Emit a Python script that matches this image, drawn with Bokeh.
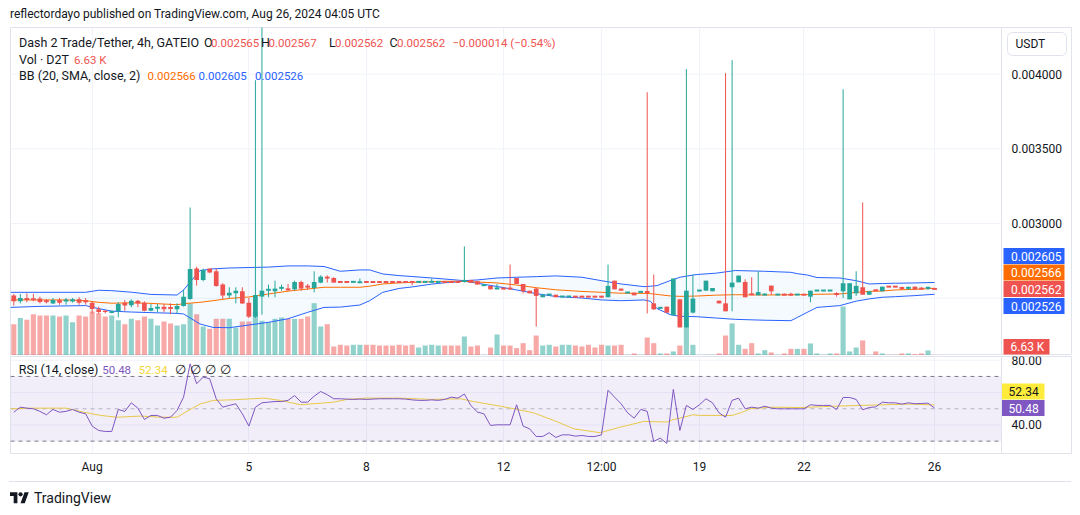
import numpy as np
from bokeh.plotting import figure
from bokeh.layouts import column
from bokeh.models import (ColumnDataSource, Range1d, FixedTicker, Grid, Label, Span,
                          BoxAnnotation, Div)
from bokeh.embed import file_html
from bokeh.resources import INLINE

UNIT = 1e-6  # all prices below are written in millionths of USDT

# ---------------- data (4h candles, D2T/USDT) ----------------
open_u = [2517, 2479, 2501, 2493, 2497, 2480, 2465, 2488, 2483, 2477, 2492, 2480, 2470, 2425, 2416, 2407,
          2412, 2470, 2452, 2483, 2470, 2416, 2434, 2443, 2435, 2425, 2447, 2494, 2698, 2622, 2698, 2680,
          2591, 2517, 2532, 2546, 2470, 2376, 2510, 2555, 2546, 2568, 2560, 2559, 2608, 2578, 2568, 2604,
          2644, 2635, 2609, 2609, 2608, 2600, 2609, 2609, 2609, 2609, 2609, 2609, 2609, 2609, 2608, 2608,
          2608, 2608, 2609, 2609, 2609, 2608, 2622, 2613, 2586, 2582, 2564, 2565, 2565, 2635, 2595, 2550,
          2564, 2506, 2523, 2523, 2510, 2510, 2511, 2511, 2511, 2511, 2511, 2506, 2617, 2564, 2537, 2537,
          2541, 2542, 2465, 2434, 2443, 2385, 2492, 2304, 2403, 2550, 2550, 2546, 2483, 2465, 2573, 2606,
          2608, 2532, 2519, 2523, 2584, 2523, 2524, 2524, 2523, 2524, 2510, 2550, 2550, 2550, 2529, 2546,
          2492, 2532, 2573, 2523, 2559, 2546, 2578, 2578, 2569, 2568, 2577, 2565, 2568, 2565]
high_u = [2528, 2528, 2532, 2528, 2510, 2494, 2501, 2501, 2501, 2501, 2506, 2501, 2479, 2443, 2421, 2416,
          2472, 2488, 2492, 2488, 2479, 2461, 2461, 2461, 2465, 2465, 2555, 3107, 2711, 2698, 2698, 2698,
          2600, 2573, 2573, 2573, 2501, 3960, 4350, 2591, 2617, 2591, 2595, 2617, 2617, 2595, 2680, 2653,
          2653, 2640, 2609, 2609, 2609, 2631, 2609, 2609, 2609, 2609, 2609, 2609, 2609, 2609, 2609, 2609,
          2631, 2609, 2609, 2609, 2609, 2846, 2622, 2613, 2587, 2582, 2595, 2565, 2725, 2635, 2595, 2550,
          2568, 2528, 2524, 2523, 2511, 2511, 2515, 2511, 2511, 2511, 2515, 2725, 2617, 2564, 2538, 2537,
          2542, 3879, 2658, 2435, 2443, 2631, 2492, 4034, 2658, 2551, 2617, 2568, 2483, 4007, 4094, 2651,
          2626, 2640, 2680, 2532, 2584, 2524, 2532, 2537, 2524, 2524, 2550, 2551, 2551, 2551, 2539, 3899,
          2600, 2680, 3141, 2546, 2559, 2577, 2578, 2578, 2577, 2577, 2577, 2573, 2577, 2567]
low_u = [2450, 2465, 2472, 2479, 2465, 2465, 2461, 2456, 2456, 2470, 2456, 2456, 2398, 2394, 2398, 2398,
         2371, 2416, 2439, 2439, 2412, 2412, 2405, 2405, 2394, 2398, 2443, 2488, 2584, 2613, 2667, 2577,
         2494, 2501, 2465, 2461, 2367, 2367, 2389, 2506, 2506, 2550, 2550, 2550, 2550, 2555, 2539, 2600,
         2604, 2604, 2608, 2608, 2608, 2600, 2608, 2608, 2608, 2608, 2608, 2608, 2608, 2586, 2608, 2608,
         2608, 2608, 2608, 2608, 2608, 2604, 2604, 2591, 2586, 2559, 2559, 2564, 2559, 2595, 2532, 2532,
         2309, 2506, 2523, 2506, 2510, 2510, 2506, 2510, 2510, 2510, 2501, 2506, 2559, 2550, 2537, 2519,
         2541, 2398, 2421, 2434, 2403, 2385, 2304, 2304, 2398, 2550, 2550, 2546, 2465, 2412, 2412, 2606,
         2506, 2519, 2519, 2519, 2523, 2523, 2519, 2515, 2523, 2523, 2472, 2550, 2550, 2550, 2510, 2501,
         2492, 2515, 2523, 2523, 2546, 2546, 2577, 2577, 2555, 2555, 2559, 2555, 2555, 2562]
close_u = [2479, 2501, 2488, 2492, 2474, 2479, 2488, 2470, 2484, 2492, 2470, 2479, 2427, 2407, 2407, 2408,
           2461, 2450, 2483, 2465, 2416, 2434, 2435, 2425, 2434, 2447, 2510, 2696, 2622, 2689, 2671, 2582,
           2517, 2537, 2550, 2465, 2376, 2521, 2550, 2556, 2564, 2569, 2559, 2608, 2564, 2577, 2608, 2644,
           2631, 2604, 2608, 2608, 2609, 2613, 2608, 2608, 2608, 2608, 2608, 2608, 2608, 2608, 2609, 2609,
           2609, 2609, 2608, 2608, 2608, 2622, 2604, 2591, 2587, 2559, 2565, 2564, 2564, 2595, 2546, 2532,
           2515, 2523, 2524, 2506, 2511, 2511, 2510, 2510, 2510, 2510, 2510, 2582, 2559, 2550, 2538, 2519,
           2542, 2541, 2425, 2435, 2403, 2631, 2304, 2550, 2497, 2551, 2617, 2568, 2465, 2412, 2604, 2651,
           2506, 2519, 2541, 2524, 2546, 2524, 2523, 2523, 2524, 2523, 2550, 2551, 2551, 2551, 2528, 2600,
           2600, 2582, 2523, 2546, 2546, 2577, 2577, 2577, 2568, 2569, 2559, 2564, 2569, 2562]
volume_k = [310, 370, 353, 409, 396, 396, 396, 386, 396, 330, 396, 386, 436, 419, 386, 396,
            350, 310, 363, 350, 386, 363, 297, 337, 317, 297, 310, 518, 409, 287, 264, 363,
            363, 363, 277, 337, 337, 436, 343, 330, 363, 376, 363, 363, 363, 386, 518, 287,
            310, 89, 106, 99, 106, 106, 106, 106, 99, 99, 99, 106, 99, 106, 79, 99,
            106, 99, 99, 99, 99, 188, 89, 99, 7, 79, 208, 99, 99, 73, 122, 53,
            198, 99, 106, 89, 106, 106, 99, 89, 106, 79, 106, 99, 99, 106, 7, 20,
            7, 178, 122, 20, 20, 40, 99, 436, 106, 7, 7, 7, 20, 198, 317, 106,
            66, 122, 20, 53, 30, 7, 20, 66, 66, 66, 119, 20, 7, 20, 20, 485,
            40, 79, 149, 7, 40, 20, 7, 7, 20, 20, 13, 20, 50, 6.63]

# Bollinger Bands (20, SMA, close, 2): bar position, upper, basis, lower
bb_bar = [-0.5, 4, 8, 11, 13, 15, 18, 21, 25, 26, 28.5, 30.5, 33, 36, 39, 42, 45, 47.5, 50, 53,
          54.5, 56.5, 59, 61, 64, 66, 69, 71, 74, 77, 80, 83, 87, 90, 93, 96.5, 97.5, 98.5, 100.5,
          102, 104.5, 107.5, 110.5, 115, 119, 120, 121.5, 123, 126.5, 129, 131, 133, 135, 138, 141]
bb_upper_u = [2539, 2539, 2539, 2539, 2553, 2550, 2540, 2525, 2521, 2555, 2685, 2696, 2702, 2705, 2708,
              2716, 2716, 2712, 2680, 2689, 2689, 2662, 2651, 2645, 2635, 2628, 2617, 2622, 2635, 2640,
              2644, 2649, 2640, 2617, 2595, 2577, 2580, 2584, 2617, 2640, 2658, 2667, 2685, 2680, 2673,
              2664, 2655, 2638, 2635, 2617, 2595, 2598, 2600, 2602, 2605]
bb_basis_u = [2488, 2488, 2488, 2483, 2472, 2466, 2469, 2465, 2456, 2463, 2472, 2483, 2498, 2508, 2528,
              2547, 2561, 2573, 2573, 2573, 2580, 2595, 2602, 2606, 2610, 2613, 2613, 2608, 2602, 2588,
              2570, 2556, 2545, 2539, 2533, 2532, 2530, 2525, 2515, 2512, 2514, 2520, 2523, 2521, 2523,
              2523, 2524, 2526, 2528, 2539, 2545, 2548, 2555, 2559, 2566]
bb_lower_u = [2438, 2445, 2448, 2450, 2430, 2413, 2407, 2403, 2398, 2394, 2327, 2304, 2302, 2320, 2338,
              2362, 2405, 2438, 2440, 2454, 2483, 2539, 2565, 2575, 2594, 2603, 2613, 2600, 2578, 2555,
              2530, 2511, 2501, 2488, 2483, 2488, 2479, 2430, 2390, 2378, 2376, 2367, 2358, 2352, 2349,
              2371, 2405, 2438, 2450, 2480, 2495, 2506, 2510, 2517, 2526]

# RSI (14, close), one value per bar
rsi = [47.9, 51.0, 50.4, 50.0, 48.4, 46.3, 49.6, 47.9, 48.4, 49.6, 47.9, 46.9, 39.3, 36.6, 36.0, 36.0,
       49.6, 48.4, 53.7, 50.4, 43.4, 45.9, 45.9, 44.2, 44.8, 49.0, 57.2, 77.8, 65.5, 69.6, 68.6, 56.2,
       51.0, 52.1, 53.1, 46.9, 39.3, 51.0, 53.7, 54.1, 54.5, 54.5, 55.2, 58.2, 54.1, 54.1, 57.8, 60.7,
       58.7, 56.2, 56.2, 56.0, 55.8, 56.0, 55.8, 56.0, 56.2, 56.2, 56.2, 56.2, 56.0, 55.5, 55.2, 55.2,
       55.5, 55.2, 55.8, 57.2, 56.6, 59.1, 52.0, 48.0, 46.9, 39.7, 40.1, 40.1, 40.1, 52.5, 39.3, 37.6,
       32.9, 32.9, 35.2, 32.3, 33.9, 33.9, 33.1, 33.5, 32.9, 32.9, 33.9, 61.5, 57.2, 53.1, 47.5, 44.2,
       49.6, 48.4, 29.8, 31.9, 28.6, 62.0, 36.6, 52.1, 49.6, 52.5, 56.2, 53.7, 47.5, 44.8, 55.2, 56.6,
       50.0, 51.0, 50.4, 51.6, 50.4, 50.0, 50.0, 50.0, 50.0, 50.0, 52.5, 52.1, 52.1, 52.1, 49.6, 57.0,
       57.0, 55.8, 49.4, 50.8, 51.2, 54.1, 53.7, 53.7, 52.9, 53.7, 53.1, 53.3, 53.5, 50.48]
# RSI-based moving average
rsi_ma_bar = [-0.5, 3, 8, 10.7, 13.3, 15.8, 19.4, 22.5, 25, 26.5, 28.6, 30.6, 33.7, 38.3, 40.8, 43.9,
              49, 51, 54, 59, 64, 68.4, 70.4, 74.5, 76.6, 79.6, 82.7, 85.8, 89.8, 92.9, 96.5, 100,
              101, 102, 104, 105, 110, 111.3, 112.8, 115.9, 120.5, 125.6, 129.7, 133.2, 137.3, 141]
rsi_ma = [50.0, 50.4, 50.4, 47.9, 45.9, 44.8, 45.5, 44.8, 44.8, 48.4, 53.1, 55.2, 55.6, 56.6, 55.2, 52.5,
          54.1, 55.8, 56.6, 56.6, 55.8, 56.2, 54.5, 51.6, 50.0, 47.5, 42.8, 37.6, 35.2, 38.7, 42.2, 41.8,
          43.4, 44.2, 46.3, 45.9, 45.9, 47.5, 50.0, 51.0, 50.8, 51.6, 52.1, 52.5, 52.9, 52.34]

tick_bars = [12, 36, 54, 75, 90, 105, 121, 141]
tick_labels = ["Aug", "5", "8", "12", "12:00", "19", "22", "26"]
price_ticks = [0.003, 0.0035, 0.004]
price_grid = [0.0025, 0.003, 0.0035, 0.004]
rsi_ticks = [40, 80]
rsi_grid = [40, 60, 80]

# ---------------- styling / layout helpers ----------------
GREEN, RED = "#26A69A", "#EF5350"
BLUE, ORANGE = "#2962FF", "#FF6D00"
PURPLE, YELLOW = "#7E57C2", "#F5D63A"
TXT = "#131722"
GRID = "#F0F3FA"
BORDER = "#E0E3EB"
FONT = "Roboto"

BAR0_PX, BAR_PX = 13.3, 6.53          # page x of first bar, page px per bar
PANE_RIGHT = 1001                     # page x of the price-scale separator


def bx(px):
    return (px - BAR0_PX) / BAR_PX


def price_at(py):
    return (3000 + (223 - py) / 0.1493) * UNIT


def rsi_at(py):
    return 50 - (py - 408.3) / 1.6175


n = len(open_u)
bars = np.arange(n)
o = np.array(open_u) * UNIT
h = np.array(high_u) * UNIT
l = np.array(low_u) * UNIT
c = np.array(close_u) * UNIT
colors = [GREEN if cc >= oo else RED for oo, cc in zip(open_u, close_u)]

src = ColumnDataSource(dict(x=bars, o=o, h=h, l=l, c=c, top=np.maximum(o, c), bot=np.minimum(o, c),
                            color=colors, vol=volume_k))
flat = [i for i in range(n) if abs(open_u[i] - close_u[i]) <= 4]
flat_src = ColumnDataSource(dict(x0=bars[flat] - 0.36, x1=bars[flat] + 0.36, y=c[flat],
                                 color=[colors[i] for i in flat]))

x_range = Range1d(bx(10), bx(1071))
XL, XR = bx(10), bx(PANE_RIGHT)

# ---------------- header ----------------
header = Div(text="reflectordayo published on TradingView.com, Aug 26, 2024 04:05 UTC",
             width=1000, height=27, margin=0,
             styles={"font-family": "Roboto", "font-size": "12px", "color": TXT,
                     "padding-left": "10px", "line-height": "28px"})

# ---------------- price pane ----------------
main = figure(width=1072, height=328, x_range=x_range, y_range=Range1d(price_at(355), price_at(27)),
              output_backend="svg", toolbar_location=None, x_axis_location=None, y_axis_location=None,
              min_border_left=10, min_border_right=1, min_border_top=0, min_border_bottom=0)
main.extra_y_ranges = {"vol": Range1d(0, 3247)}
main.outline_line_color = BORDER
for g in main.grid:
    g.visible = False
main.add_layout(Grid(dimension=0, ticker=FixedTicker(ticks=tick_bars), grid_line_color=GRID))
main.segment(x0=[XL] * len(price_grid), x1=[XR] * len(price_grid), y0=price_grid, y1=price_grid,
             line_color=GRID, line_width=1)
main.add_layout(Span(location=XR, dimension="height", line_color=BORDER, line_width=1))

# volume
main.vbar(x="x", width=0.78, top="vol", bottom=0, y_range_name="vol", fill_color="color",
          fill_alpha=0.5, line_color=None, source=src)
# Bollinger bands
main.varea(x=bb_bar, y1=np.array(bb_lower_u) * UNIT, y2=np.array(bb_upper_u) * UNIT,
           fill_color="#2196F3", fill_alpha=0.05)
main.line(bb_bar, np.array(bb_upper_u) * UNIT, line_color=BLUE, line_width=1)
main.line(bb_bar, np.array(bb_lower_u) * UNIT, line_color=BLUE, line_width=1)
main.line(bb_bar, np.array(bb_basis_u) * UNIT, line_color=ORANGE, line_width=1)
# candles
main.segment(x0="x", y0="h", x1="x", y1="l", line_color="color", line_width=1, source=src)
main.vbar(x="x", width=0.72, top="top", bottom="bot", fill_color="color", line_color=None, source=src)
main.segment(x0="x0", y0="y", x1="x1", y1="y", line_color="color", line_width=2, source=flat_src)


def put(fig, y, px, text, color=TXT, size="12.5px", align="left", **kw):
    fig.add_layout(Label(x=bx(px), y=y, text=text, text_color=color, text_font=FONT,
                         text_font_size=size, text_baseline="middle", text_align=align, **kw))


def tag(fig, ymap, x0, x1, y0, y1, text, bg, fg="white", tx=None):
    fig.quad(left=bx(x0), right=bx(x1), top=ymap(y0), bottom=ymap(y1), fill_color=bg, line_color=None)
    put(fig, ymap((y0 + y1) / 2), tx if tx is not None else x0 + 7, text, fg, size="12px")


# legends
VAL = "11.5px"
put(main, price_at(42), 18.5, "Dash 2 Trade/Tether, 4h, GATEIO")
for px, letter, vpx, val in [(203.5, "O", 210.5, "0.002565"), (260.5, "H", 268, "0.002567"),
                             (328.5, "L", 334.5, "0.002562"), (389, "C", 396.5, "0.002562")]:
    put(main, price_at(42), px, letter)
    put(main, price_at(42), vpx, val, RED, size=VAL)
put(main, price_at(42), 452, "\u22120.000014 (\u22120.54%)", RED, size=VAL)
put(main, price_at(59), 18.5, "Vol \u00b7 D2T")
put(main, price_at(59), 73.5, "6.63 K", RED, size=VAL)
put(main, price_at(75), 18.5, "BB (20, SMA, close, 2)")
put(main, price_at(75), 147, "0.002566", ORANGE, size=VAL)
put(main, price_at(75), 198, "0.002605", BLUE, size=VAL)
put(main, price_at(75), 254.5, "0.002526", BLUE, size=VAL)

# price scale
for v in price_ticks:
    put(main, v, 1011, f"{v:.6f}", size="12px")
main.quad(left=bx(1007), right=bx(1066), top=price_at(32), bottom=price_at(55), fill_color="white",
          line_color=BORDER, border_radius=5)
put(main, price_at(43.5), 1015, "USDT", size="12px")
for y0, y1, val, bg in [(247.5, 263.5, "0.002605", BLUE), (264, 280, "0.002566", ORANGE),
                        (280.5, 296.5, "0.002562", RED), (297.5, 313.5, "0.002526", BLUE)]:
    tag(main, price_at, 1003, 1064, y0, y1, val, bg, tx=1010.5)
tag(main, price_at, 1003, 1049, 338.5, 354, "6.63 K", RED, tx=1010)

# ---------------- RSI pane ----------------
rp = figure(width=1072, height=126, x_range=x_range, y_range=Range1d(rsi_at(453), rsi_at(356)),
            output_backend="svg", toolbar_location=None, y_axis_location=None,
            min_border_left=10, min_border_right=1, min_border_top=1, min_border_bottom=28)
rp.outline_line_color = BORDER
for g in rp.grid:
    g.visible = False
rp.add_layout(Grid(dimension=0, ticker=FixedTicker(ticks=tick_bars), grid_line_color=GRID))
rp.segment(x0=[XL] * len(rsi_grid), x1=[XR] * len(rsi_grid), y0=rsi_grid, y1=rsi_grid,
           line_color=GRID, line_width=1)
rp.add_layout(BoxAnnotation(left=XL, right=XR, bottom=30, top=70, fill_color=PURPLE, fill_alpha=0.1,
                            line_color=None))
rp.segment(x0=[XL, XL], x1=[XR, XR], y0=[70, 30], y1=[70, 30], line_color="#787B86", line_dash="4 4",
           line_width=1)
rp.segment(x0=[XL], x1=[XR], y0=[50], y1=[50], line_color="#787B86", line_alpha=0.5, line_dash="4 4",
           line_width=1)
rp.add_layout(Span(location=XR, dimension="height", line_color=BORDER, line_width=1))
rp.line(rsi_ma_bar, rsi_ma, line_color=YELLOW, line_width=1)
rp.line(bars, rsi, line_color=PURPLE, line_width=1)

xa = rp.xaxis[0]
xa.ticker = FixedTicker(ticks=tick_bars)
xa.major_label_overrides = {b: t for b, t in zip(tick_bars, tick_labels)}
xa.axis_line_color = None
xa.major_tick_line_color = None
xa.minor_tick_line_color = None
xa.major_label_standoff = 0
xa.major_label_text_font = FONT
xa.major_label_text_font_size = "12px"
xa.major_label_text_color = TXT

for v in rsi_ticks:
    put(rp, v, 1011, f"{v:.2f}", size="12px")
put(rp, rsi_at(369), 18.3, "RSI (14, close)")
put(rp, rsi_at(369), 101.7, "50.48", PURPLE, size=VAL)
put(rp, rsi_at(369), 138.3, "52.34", YELLOW, size=VAL)
for px in [179.5, 195, 210, 225]:
    put(rp, rsi_at(369), px, "\u2205", align="center")
tag(rp, rsi_at, 1001, 1044, 383, 399, "52.34", "#FFEB3B", fg=TXT, tx=1008)
tag(rp, rsi_at, 1001, 1044, 399.5, 415.5, "50.48", PURPLE, tx=1008)

# ---------------- footer ----------------
logo = ('<svg width="19" height="15" viewBox="0 0 36 28" style="display:block">'
        '<path d="M14 25H7V11H0V4h14v21zM28 25h-8l7.5-21h8L28 25z" fill="#131722"/>'
        '<circle cx="20" cy="8" r="4" fill="#131722"/></svg>')
footer = Div(text=('<div style="margin-left:9px;width:1062px;border-top:1px solid #E0E3EB;height:32px;'
                   'display:flex;align-items:center;gap:5px;padding-left:1px;box-sizing:border-box;'
                   'font-family:Roboto;font-size:14px;color:#131722">' + logo + '<span>TradingView</span></div>'),
             width=1072, height=33, margin=0)

layout = column(header, main, rp, footer, spacing=0)
open("out.html", "w").write(file_html(layout, INLINE))
